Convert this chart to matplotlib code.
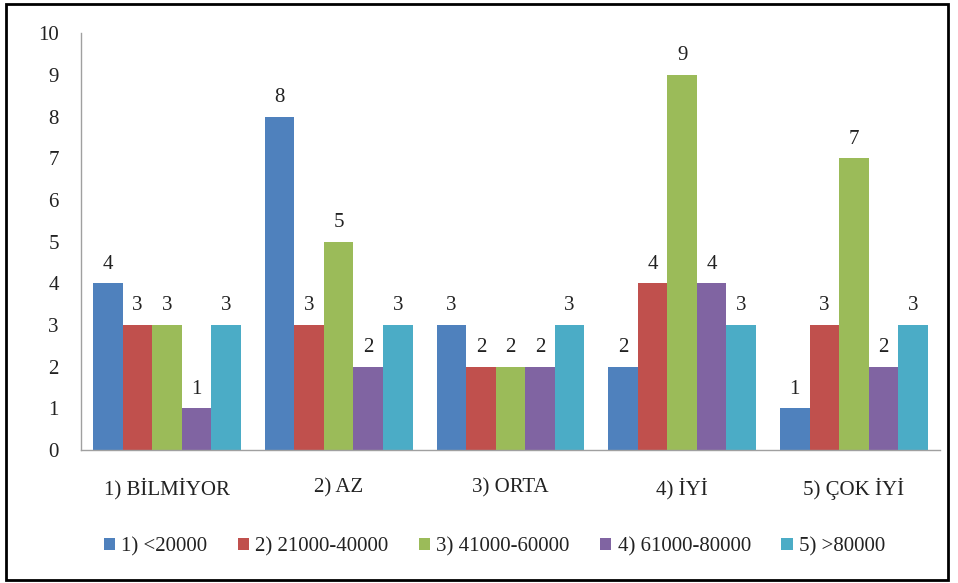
import matplotlib
matplotlib.use("Agg")
import matplotlib.pyplot as plt
from matplotlib.patches import Rectangle
import numpy as np

categories = ["1) BİLMİYOR", "2) AZ", "3) ORTA", "4) İYİ", "5) ÇOK İYİ"]
series_names = ["1) <20000", "2) 21000-40000", "3) 41000-60000", "4) 61000-80000", "5) >80000"]
s1 = [4, 8, 3, 2, 1]
s2 = [3, 3, 2, 4, 3]
s3 = [3, 5, 2, 9, 7]
s4 = [1, 2, 2, 4, 2]
s5 = [3, 3, 3, 3, 3]
series = [s1, s2, s3, s4, s5]
colors = ["#4F81BD", "#C0504D", "#9BBB59", "#8064A2", "#4BACC6"]

plt.rcParams['font.family'] = ['Liberation Serif', 'DejaVu Serif']
FS = 15

fig = plt.figure(figsize=(9.58, 5.83), dpi=100)
ax = fig.add_axes([0.0846, 0.228, 0.8964, 0.715])

x = np.arange(len(categories))
bw = 0.172
for i, (vals, c, name) in enumerate(zip(series, colors, series_names)):
    pos = x + (i - 2) * bw
    ax.bar(pos, vals, width=bw, color=c, label=name, linewidth=0)
    for p, v in zip(pos, vals):
        ax.annotate(str(v), (p, v), xytext=(0, 7), textcoords="offset points",
                    ha="center", va="bottom", fontsize=FS, color="#222222")

ax.set_xlim(-0.5, len(categories) - 0.5)
ax.set_ylim(0, 10)
ax.set_yticks(range(0, 11))
ax.set_xticks(x)
ax.set_xticklabels(categories, fontsize=FS, color="#222222")
ax.tick_params(axis='y', length=0, labelsize=FS, pad=16, labelcolor="#222222")
ax.tick_params(axis='x', length=0, pad=20)
for s in ["top", "right"]:
    ax.spines[s].set_visible(False)
for s in ["left", "bottom"]:
    ax.spines[s].set_color("#A0A0A0")
    ax.spines[s].set_linewidth(1)

leg = fig.legend(loc="center", bbox_to_anchor=(0.516, 0.062), ncol=5, frameon=False,
                 fontsize=FS, handlelength=0.55, handleheight=0.55, handletextpad=0.3,
                 columnspacing=1.45)
for t in leg.get_texts():
    t.set_color("#222222")

# outer border
fig.patches.append(Rectangle((6/958, 1-580/583), 942/958, 576/583, transform=fig.transFigure,
                             fill=False, edgecolor="black", linewidth=2))

fig.savefig("out.png", dpi=100)
